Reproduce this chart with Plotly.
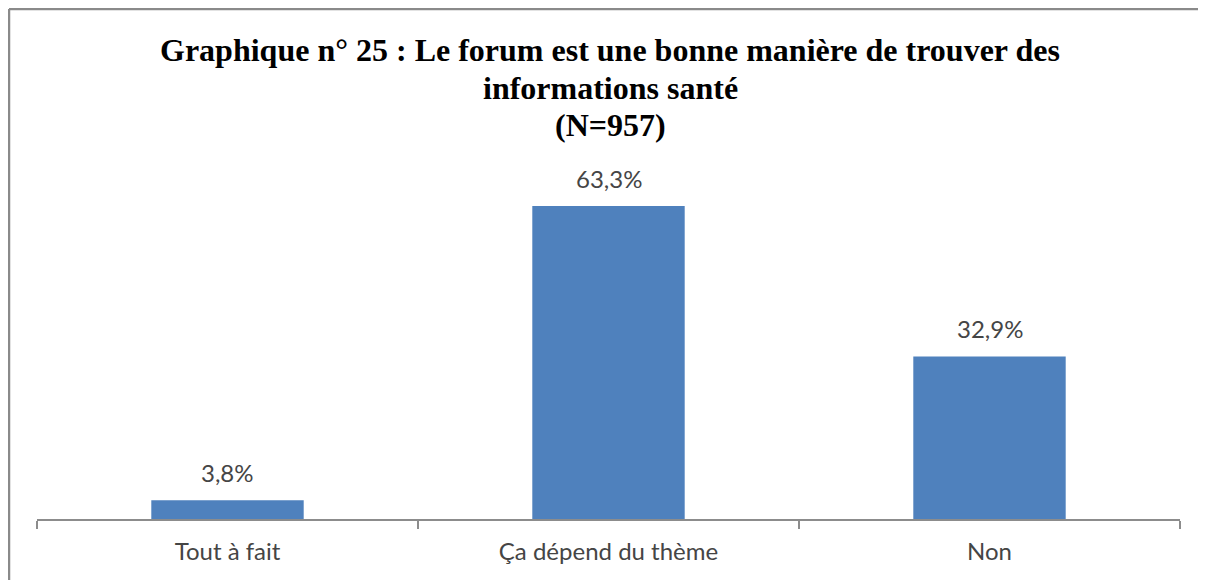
import plotly.graph_objects as go

categories = ["Tout à fait", "Ça dépend du thème", "Non"]
values = [3.8, 63.3, 32.9]
labels = [f"{v:.1f}%".replace(".", ",") for v in values]

title_lines = [
    "Graphique n° 25 : Le forum est une bonne manière de trouver des",
    "informations santé",
    "(N=957)",
]

# page body has an 8px margin, so the figure is drawn 8px right/down
W, H = 1198, 572
L, R, T, B = 29, 26, 165, 61
pw, ph = W - L - R, H - T - B

fig = go.Figure(
    go.Bar(
        x=categories,
        y=values,
        marker=dict(color="#4F81BD", line=dict(width=0)),
        width=0.4,
        hoverinfo="skip",
    )
)

lab_font = dict(family="Lato, Open Sans, sans-serif", size=24, color="#454545")
for c, v, t in zip(categories, values, labels):
    fig.add_annotation(
        x=c, y=v, text=t, showarrow=False, yanchor="bottom", yshift=11,
        font=lab_font,
    )

title_y_px = [42, 80, 117]
title_x_px = 602
for line, ypx in zip(title_lines, title_y_px):
    fig.add_annotation(
        xref="paper", yref="paper",
        x=(title_x_px - L) / pw, y=(H - B - ypx) / ph,
        xanchor="center", yanchor="middle", showarrow=False,
        text=f"<b>{line}</b>",
        font=dict(family="Liberation Serif, Times New Roman, serif", size=32, color="black"),
    )

fig.update_layout(
    width=W, height=H,
    margin=dict(l=L, r=R, t=T, b=B),
    paper_bgcolor="white",
    plot_bgcolor="white",
    showlegend=False,
    xaxis=dict(
        showline=True, linecolor="#8c8c8c", linewidth=1.5,
        ticks="outside", tickson="boundaries", ticklen=8, tickcolor="#8c8c8c", tickwidth=1.5,
        ticklabelstandoff=10,
        tickfont=lab_font,
        showgrid=False, zeroline=False,
    ),
    yaxis=dict(
        range=[0, 70], visible=False, showgrid=False, zeroline=False,
    ),
)

# chart frame (left and top edges)
fx0 = (1 - L) / pw
fy1 = (H - B - 1) / ph
fx1 = (1196 - L) / pw
fy0 = -(B + 5) / ph
fig.add_shape(type="line", xref="paper", yref="paper", x0=fx0, x1=fx0, y0=fy0, y1=fy1,
              line=dict(color="#8a8a8a", width=2.5))
fig.add_shape(type="line", xref="paper", yref="paper", x0=fx0, x1=fx1, y0=fy1, y1=fy1,
              line=dict(color="#8a8a8a", width=2.5))

fig.write_html("out.html")
